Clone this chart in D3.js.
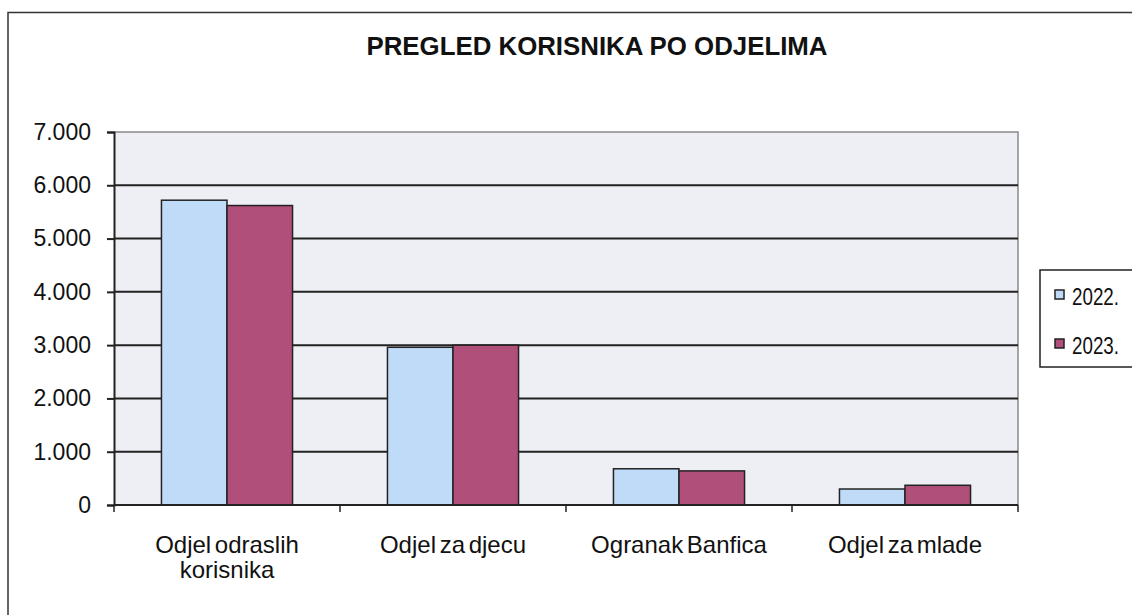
<!DOCTYPE html>
<html>
<head>
<meta charset="utf-8">
<script src="https://cdn.jsdelivr.net/npm/d3@7"></script>
<style>
	html, body { margin: 0; padding: 0; background: #fff; }
	svg { display: block; font-family: 'Liberation Sans', Arial, sans-serif; }
</style>
</head>
<body>
<script>
const categories = [ [ 'Odjel odraslih', 'korisnika' ], [ 'Odjel za djecu' ], [ 'Ogranak Banfica' ], [ 'Odjel za mlade' ] ];
const seriesNames = [ '2022.', '2023.' ];
const values2022 = [ 5720, 2960, 680, 300 ];
const values2023 = [ 5620, 3000, 640, 370 ];
const yTicks = [ 0, 1000, 2000, 3000, 4000, 5000, 6000, 7000 ];
const title = 'PREGLED KORISNIKA PO ODJELIMA';

const colors = [ '#bfdbf8', '#b04f79' ];
const width = 1132;
const height = 615;

const svg = d3.select('body').append('svg').attr('width', width).attr('height', height);

/*
	outer frame (only top and left visible in the scan)
*/
svg.append('path')
	.attr('d', 'M8,615 L8,12.5 L1132,12.5')
	.attr('fill', 'none')
	.attr('stroke', '#333')
	.attr('stroke-width', 1.5);

svg.append('text')
	.attr('x', 597)
	.attr('y', 55)
	.attr('text-anchor', 'middle')
	.attr('font-weight', 'bold')
	.style('font-size', '26px')
	.attr('textLength', 461)
	.attr('lengthAdjust', 'spacingAndGlyphs')
	.attr('fill', '#111')
	.text(title);

/*
	scales
*/
const plotLeft = 114;
const plotRight = 1018;
const plotTop = 132;
const plotBottom = 505;

const keys = categories.map((c) => c.join(' '));
const x = d3.scaleBand().domain(keys).range([ plotLeft, plotRight ]).paddingInner(0.42).paddingOuter(0.21);
const xs = d3.scaleBand().domain(seriesNames).range([ 0, x.bandwidth() ]);
const y = d3.scaleLinear().domain([ 0, 7000 ]).range([ plotBottom, plotTop ]);

svg.append('rect')
	.attr('x', plotLeft)
	.attr('y', plotTop)
	.attr('width', plotRight - plotLeft)
	.attr('height', plotBottom - plotTop)
	.attr('fill', '#eeeef5');

// gray frame at top and right of plot
svg.append('path')
	.attr('d', `M${plotLeft},${plotTop} L${plotRight},${plotTop} L${plotRight},${plotBottom}`)
	.attr('fill', 'none')
	.attr('stroke', '#8a8a8a')
	.attr('stroke-width', 1.5);

const gGrid = svg.append('g');
yTicks.filter((t) => t > 0 && t < 7000).forEach((t) => {
	gGrid.append('line')
		.attr('x1', plotLeft)
		.attr('x2', plotRight)
		.attr('y1', y(t))
		.attr('y2', y(t))
		.attr('stroke', '#222')
		.attr('stroke-width', 2);
});

/*
	bars
*/
const rows = keys.map((k, i) => ({ key: k, vals: [ values2022[i], values2023[i] ] }));
const gBars = svg.append('g');
rows.forEach((row) => {
	row.vals.forEach((v, si) => {
		gBars.append('rect')
			.attr('x', x(row.key) + xs(seriesNames[si]))
			.attr('y', y(v))
			.attr('width', xs.bandwidth())
			.attr('height', y(0) - y(v))
			.attr('fill', colors[si])
			.attr('stroke', '#222')
			.attr('stroke-width', 1.5);
	});
});

/*
	axes
*/
const yAxis = svg.append('g')
	.attr('transform', `translate(${plotLeft},0)`)
	.call(d3.axisLeft(y).tickValues(yTicks).tickSize(7).tickPadding(16)
		.tickFormat((d) => d3.format(',')(d).replace(/,/g, '.')));
yAxis.select('.domain').attr('stroke', '#222').attr('stroke-width', 2);
yAxis.selectAll('.tick line').attr('stroke', '#222').attr('stroke-width', 2);
yAxis.selectAll('.tick text')
	.style('font-size', '23px')
	.style('font-family', "'Liberation Sans', Arial, sans-serif")
	.attr('fill', '#111');

const xAxis = svg.append('g').attr('transform', `translate(0,${plotBottom})`);
xAxis.append('line')
	.attr('x1', plotLeft)
	.attr('x2', plotRight)
	.attr('stroke', '#222')
	.attr('stroke-width', 2);
d3.range(keys.length + 1).forEach((i) => {
	const tx = plotLeft + x.step() * i;
	xAxis.append('line')
		.attr('x1', tx)
		.attr('x2', tx)
		.attr('y1', 0)
		.attr('y2', 7)
		.attr('stroke', '#222')
		.attr('stroke-width', 1.5);
});

categories.forEach((lines, i) => {
	const cx = x(keys[i]) + x.bandwidth() / 2;
	const t = svg.append('text')
		.attr('text-anchor', 'middle')
		.style('font-size', '24px')
		.style('word-spacing', '-3px')
		.attr('fill', '#111');
	lines.forEach((ln, li) => {
		t.append('tspan').attr('x', cx).attr('y', 553 + li * 25).text(ln);
	});
});

/*
	legend
*/
const gLegend = svg.append('g');
gLegend.append('rect')
	.attr('x', 1040)
	.attr('y', 270)
	.attr('width', 120)
	.attr('height', 97)
	.attr('fill', '#fff')
	.attr('stroke', '#222')
	.attr('stroke-width', 1.5);

seriesNames.forEach((name, i) => {
	const ly = 294 + i * 49;
	gLegend.append('rect')
		.attr('x', 1055)
		.attr('y', ly - 4)
		.attr('width', 9)
		.attr('height', 9)
		.attr('fill', colors[i])
		.attr('stroke', '#222')
		.attr('stroke-width', 1.5);
	gLegend.append('text')
		.attr('x', 1072)
		.attr('y', ly + 11)
		.style('font-size', '23px')
		.attr('textLength', 47)
		.attr('lengthAdjust', 'spacingAndGlyphs')
		.attr('fill', '#111')
		.text(name);
});
</script>
</body>
</html>
